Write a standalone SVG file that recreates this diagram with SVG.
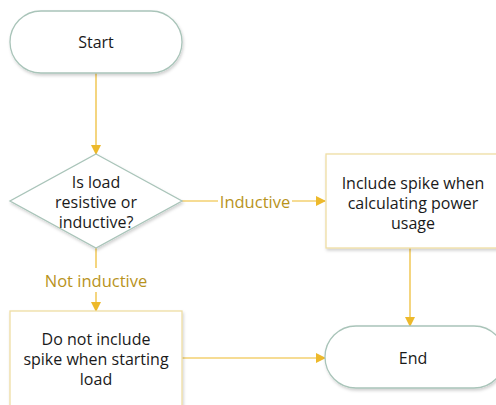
<svg xmlns="http://www.w3.org/2000/svg" width="496" height="405" viewBox="0 0 496 405">
<defs>
<filter id="sh" x="-10%" y="-10%" width="130%" height="140%">
<feDropShadow dx="1" dy="2" stdDeviation="1.5" flood-color="#000" flood-opacity="0.18"/>
</filter>
<marker id="ah" markerWidth="10" markerHeight="10" refX="9" refY="5" orient="auto" markerUnits="userSpaceOnUse">
<path d="M0,0 L10,5 L0,10 Z" fill="#EDB92B"/>
</marker>
<style>
.term{fill:#fff;stroke:#A9C4B9;stroke-width:1.3;filter:url(#sh)}
.proc{fill:#fff;stroke:#EEDDA4;stroke-width:1.3;filter:url(#sh)}
.t{font-family:"Open Sans","Noto Sans",sans-serif;font-size:16px;fill:#1a1a1a;text-anchor:middle;dominant-baseline:central}
.lbl{font-family:"Open Sans","Noto Sans",sans-serif;font-size:16.5px;fill:#B8931C;text-anchor:middle;dominant-baseline:central}
.c{fill:none;stroke:#EDB92B;stroke-width:1.2}
</style>
</defs>
<rect x="0" y="0" width="496" height="405" fill="#fff"/>
<g id="connectors">
<path class="c" d="M96,73 L96,154" marker-end="url(#ah)"/>
<path class="c" d="M182,201 L218,201 M292,201 L325,201" marker-end="url(#ah)"/>
<path class="c" d="M96,248 L96,268 M96,292 L96,311" marker-end="url(#ah)"/>
<path class="c" d="M410,248 L410,326" marker-end="url(#ah)"/>
<path class="c" d="M182,358 L325,358" marker-end="url(#ah)"/>
<text class="lbl" x="255" y="201">Inductive</text>
<text class="lbl" x="96" y="280">Not inductive</text>
</g>
<g id="start">
<rect class="term" x="10" y="11" width="172" height="62" rx="31" ry="31"/>
<text class="t" x="96" y="42">Start</text>
</g>
<g id="decision">
<path class="term" d="M96,154 L182,201 L96,248 L10,201 Z"/>
<text class="t" x="96" y="182">Is load</text>
<text class="t" x="96" y="202">resistive or</text>
<text class="t" x="96" y="222">inductive?</text>
</g>
<g id="include">
<rect class="proc" x="326" y="154" width="172" height="94"/>
<text class="t" x="413" y="183">Include spike when</text>
<text class="t" x="413" y="203">calculating power</text>
<text class="t" x="413" y="223">usage</text>
</g>
<g id="notinclude">
<rect class="proc" x="10" y="311" width="172" height="100"/>
<text class="t" x="96" y="339">Do not include</text>
<text class="t" x="96" y="359">spike when starting</text>
<text class="t" x="96" y="379">load</text>
</g>
<g id="end">
<rect class="term" x="325" y="326" width="180" height="62" rx="31" ry="31"/>
<text class="t" x="413" y="358">End</text>
</g>
</svg>
